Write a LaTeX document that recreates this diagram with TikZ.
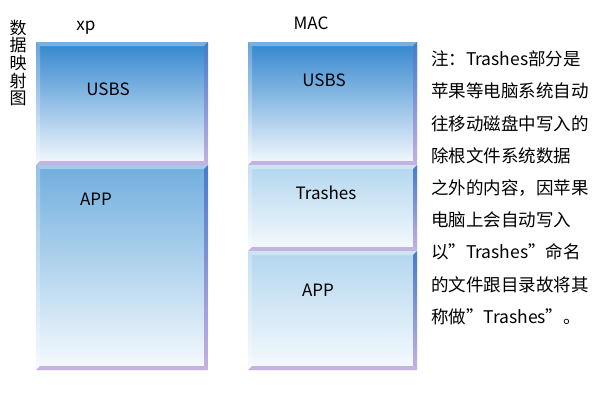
\documentclass[tikz,border=0pt]{standalone}
\usepackage{fontspec}
\setmainfont{Noto Sans CJK SC}
\usetikzlibrary{positioning}
\definecolor{usbsblue}{RGB}{50,134,206}
\definecolor{xpappblue}{RGB}{112,174,222}
\definecolor{macblue}{RGB}{178,214,238}
\definecolor{paleblue}{RGB}{246,250,254}
\definecolor{edgeblue}{RGB}{70,122,202}
\definecolor{edgelilac}{RGB}{196,178,226}
\begin{document}
\begin{tikzpicture}[x=1pt, y=-1pt, node distance=0pt, inner sep=0pt, outer sep=0pt,
        layer/.style = {rectangle, anchor=north west, bottom color=paleblue,
            path picture={
                \coordinate (nw) at (path picture bounding box.north west);
                \coordinate (ne) at (path picture bounding box.north east);
                \coordinate (sw) at (path picture bounding box.south west);
                \coordinate (se) at (path picture bounding box.south east);
                \fill[white, opacity=.35] (nw) -- (ne) -- ([shift={(-4pt,-4pt)}]ne) -- ([shift={(4pt,-4pt)}]nw) -- cycle;
                \fill[white, opacity=.25] (nw) -- ([shift={(4pt,-4pt)}]nw) -- ([shift={(4pt,4pt)}]sw) -- (sw) -- cycle;
                \shade[top color=edgeblue, bottom color=edgelilac] ([shift={(-4pt,-4pt)}]ne) -- (ne) -- (se) -- ([shift={(-4pt,4pt)}]se) -- cycle;
                \fill[edgelilac] ([shift={(4pt,4pt)}]sw) -- ([shift={(-4pt,4pt)}]se) -- (se) -- (sw) -- cycle;
            }},
        xp/.style = {layer, minimum width=172pt},
        mac/.style = {layer, minimum width=169pt},
        txt/.style = {anchor=base, font=\fontsize{17}{20}\selectfont}]
        \useasboundingbox (0,0) rectangle (600,400);

        \node[xp, top color=usbsblue, minimum height=123pt] (1) at (36,42) {};
        \node[xp, top color=xpappblue, minimum height=205pt] (2) [below=of 1] {};

        \node[mac, top color=usbsblue, minimum height=123pt] (3) at (248,42) {};
        \node[mac, top color=macblue, minimum height=86pt] (4) [below=of 3] {};
        \node[mac, top color=macblue, minimum height=119pt] (5) [below=of 4] {};

        \node[txt] (6) at (86,30) {xp};
        \node[txt] (7) at (311,29) {MAC};
        \node[txt] (8) at (108,95) {USBS};
        \node[txt] (9) at (96,205) {APP};
        \node[txt] (10) at (324,86) {USBS};
        \node[txt] (11) at (326,199) {Trashes};
        \node[txt] (12) at (318,296) {APP};

        \node[anchor=north, align=center, font=\fontsize{17}{17.6}\selectfont] (13) at (18,20) {数\\据\\映\\射\\图};

        \node[anchor=north west, align=left, font=\fontsize{17.5}{32.2}\selectfont] (14) at (431,51)
            {注：Trashes部分是\\苹果等电脑系统自动\\往移动磁盘中写入的\\除根文件系统数据\\之外的内容，因苹果\\电脑上会自动写入\\以”Trashes”命名\\的文件跟目录故将其\\称做”Trashes”。};
    \end{tikzpicture}
\end{document}
